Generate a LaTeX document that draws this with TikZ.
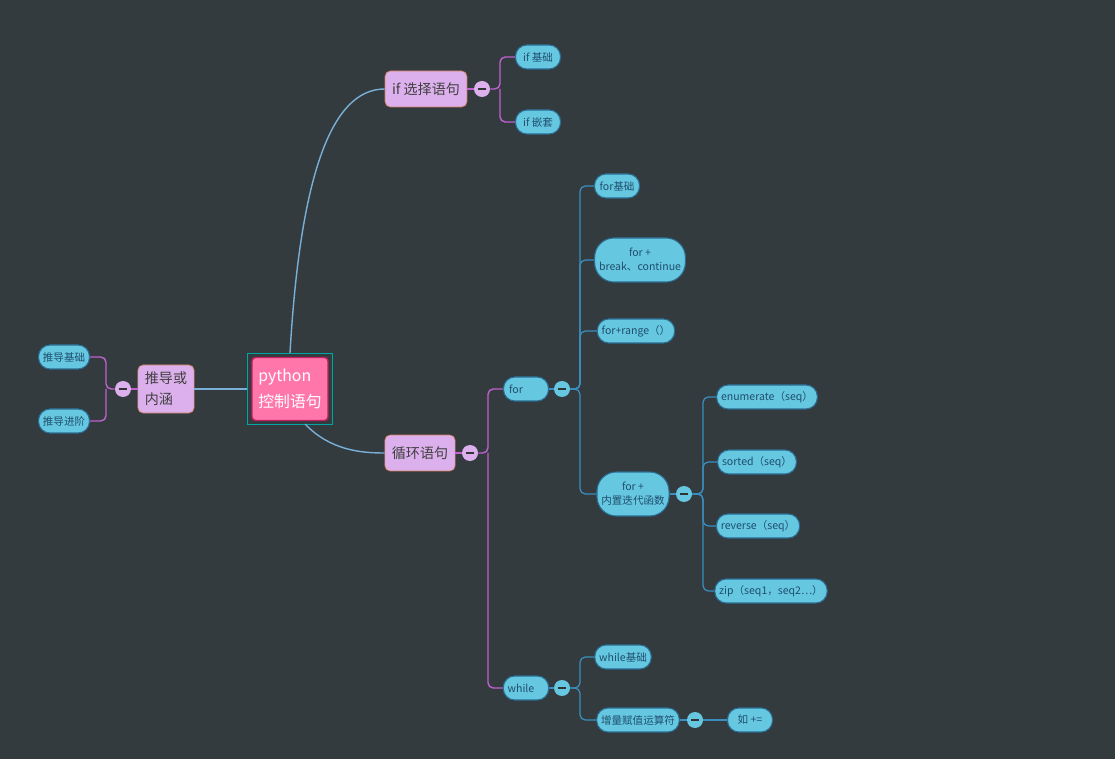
\documentclass[tikz,border=0pt]{standalone}
\usepackage{fontspec}
\setmainfont{Noto Sans CJK SC}
\definecolor{bgc}{HTML}{343B3F}
\definecolor{leaff}{HTML}{66C8E0}
\definecolor{leafd}{HTML}{2A6E96}
\definecolor{leaft}{HTML}{1F4E6E}
\definecolor{subf}{HTML}{DCB0EC}
\definecolor{subd}{HTML}{D08060}
\definecolor{rootf}{HTML}{FF77AA}
\definecolor{rootd}{HTML}{C02060}
\definecolor{purl}{HTML}{C060D0}
\definecolor{blul}{HTML}{3A8FC0}
\definecolor{rootl}{HTML}{78B0D8}
\tikzset{
  leaf/.style={draw=leafd,fill=leaff,text=leaft,rounded corners=6.5pt,font=\fontsize{6}{8}\selectfont,
    inner sep=2.5pt,minimum height=0.48cm,minimum width=0.9cm,align=center,line width=0.6pt},
  tall/.style={leaf,rounded corners=11pt,minimum height=0.88cm},
  sub/.style={draw=subd,fill=subf,text=black!75,rounded corners=3pt,font=\fontsize{8}{12}\selectfont,
    inner sep=4pt,minimum height=0.72cm,align=left},
  fold/.style={circle,fill=#1,minimum size=0.32cm,inner sep=0pt,
    path picture={\draw[line width=1.2pt,black!80] ([xshift=-2.2pt]path picture bounding box.center) -- ([xshift=2.2pt]path picture bounding box.center);}},
  pl/.style={draw=purl,line width=0.8pt,rounded corners=3pt},
  bl/.style={draw=blul,line width=0.7pt,rounded corners=3pt},
  rl/.style={draw=rootl,line width=0.8pt}
}
\begin{document}
\begin{tikzpicture}[x=0.02cm,y=-0.02cm]
  \fill[bgc] (0,0) rectangle (1115,759);
  % root
  \node[draw=teal!70!cyan,line width=0.9pt,minimum width=1.7cm,minimum height=1.42cm] (frame) at (290,389) {};
  \node[draw=rootd,fill=rootf,text=white,rounded corners=2pt,minimum width=1.52cm,minimum height=1.26cm,
    font=\fontsize{9}{15}\selectfont,align=left,line width=0.8pt] (root) at (290,389) {python\\控制语句};
  % left branch
  \node[sub] (derive) at (166,389) {推导或\\内涵};
  \node[fold=subf] (fd) at (123,389) {};
  \node[leaf] (d1) at (64,357) {推导基础};
  \node[leaf] (d2) at (64,421) {推导进阶};
  \draw[rl] (frame.west) -- (derive.east);
  \draw[pl] (derive.west) -- (fd.east);
  \draw[pl] (fd.west) -- (106,389) |- (d1.east);
  \draw[pl] (106,389) |- (d2.east);
  % if branch
  \node[sub] (ifs) at (426,89) {if 选择语句};
  \node[fold=subf] (fi) at (482,89) {};
  \node[leaf] (i1) at (538,57) {if 基础};
  \node[leaf] (i2) at (538,122) {if 嵌套};
  \draw[rl] (290,353) .. controls (300,180) and (330,89) .. (ifs.west);
  \draw[pl] (ifs.east) -- (fi.west);
  \draw[pl] (fi.east) -- (500,89) |- (i1.west);
  \draw[pl] (500,89) |- (i2.west);
  % loop branch
  \node[sub] (loop) at (420,453) {循环语句};
  \node[fold=subf] (fl) at (470,453) {};
  \node[leaf] (for) at (526,389) {for\hspace{4mm}};
  \node[leaf] (while) at (526,688) {while\hspace{2mm}};
  \draw[rl] (305,424) .. controls (330,450) and (360,453) .. (loop.west);
  \draw[pl] (loop.east) -- (fl.west);
  \draw[pl] (fl.east) -- (488,453) |- (for.west);
  \draw[pl] (488,453) |- (while.west);
  % for
  \node[fold=leaff] (ff) at (562,389) {};
  \node[leaf] (f1) at (617,186) {for基础};
  \node[tall] (f2) at (640,260) {for +\\break、continue};
  \node[leaf] (f3) at (636,331) {for+range（）};
  \node[tall] (f4) at (633,494) {for +\\内置迭代函数};
  \draw[bl] (for.east) -- (ff.west);
  \foreach \n in {f1,f2,f3,f4}
    \draw[bl] (ff.east) -- (580,389) |- (\n.west);
  % builtin functions
  \node[fold=leaff] (fb) at (684,494) {};
  \node[leaf] (b1) at (767,397) {enumerate（seq）};
  \node[leaf] (b2) at (757,462) {sorted（seq）};
  \node[leaf] (b3) at (758,526) {reverse（seq）};
  \node[leaf] (b4) at (771,591) {zip（seq1，seq2…）};
  \draw[bl] (f4.east) -- (fb.west);
  \foreach \n in {b1,b2,b3,b4}
    \draw[bl] (fb.east) -- (703,494) |- (\n.west);
  % while
  \node[fold=leaff] (fw) at (562,688) {};
  \node[leaf] (w1) at (623,657) {while基础};
  \node[leaf] (w2) at (638,720) {增量赋值运算符};
  \draw[bl] (while.east) -- (fw.west);
  \foreach \n in {w1,w2}
    \draw[bl] (fw.east) -- (580,688) |- (\n.west);
  \node[fold=leaff] (fw2) at (695,720) {};
  \node[leaf] (w3) at (750,720) {如 +=};
  \draw[bl] (w2.east) -- (fw2.west);
  \draw[bl] (fw2.east) -- (w3.west);
\end{tikzpicture}
\end{document}
